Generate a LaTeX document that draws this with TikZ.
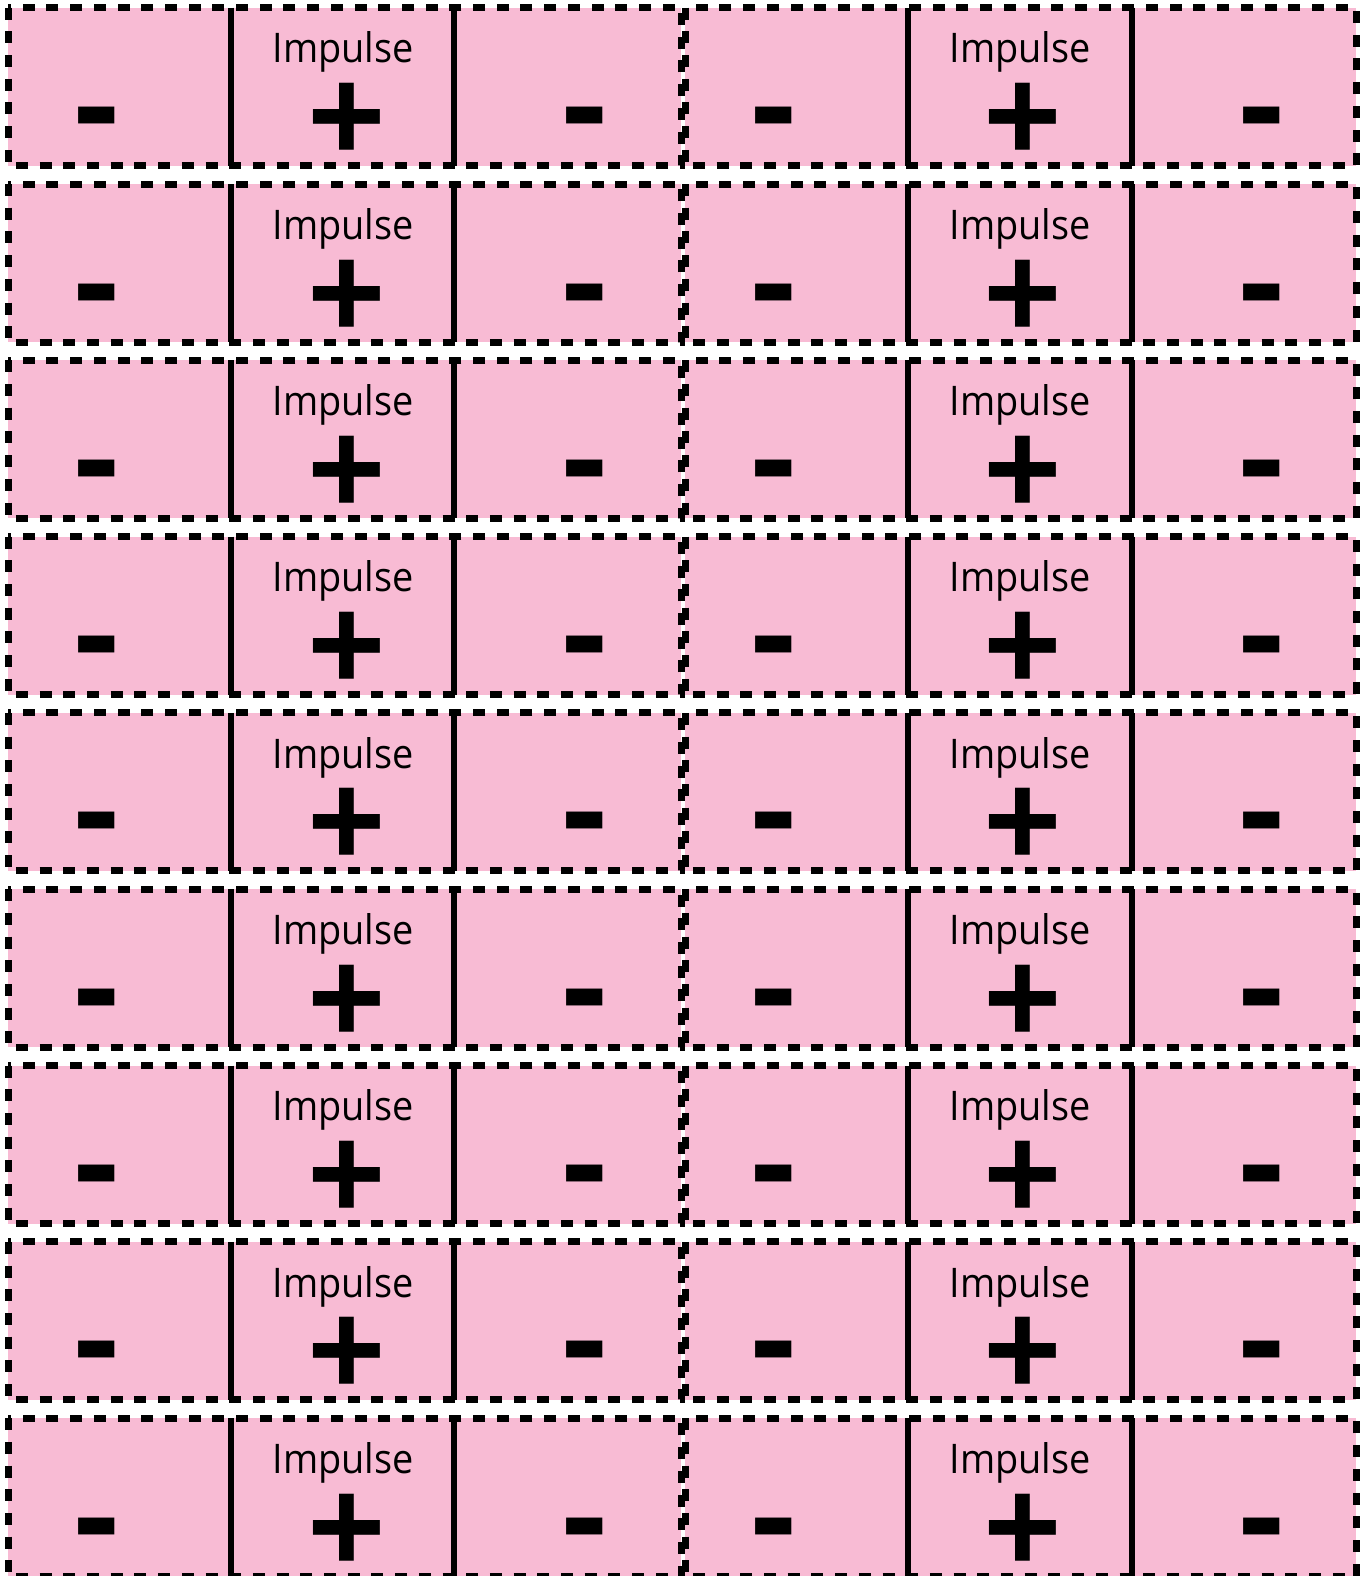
\documentclass[tikz,border=0pt]{standalone}
\usepackage{fontspec}
\setmainfont{Open Sans}
\definecolor{cardpink}{HTML}{F8BBD4}
\newcommand{\bigsign}[1]{\scalebox{3.45}{\fontsize{40}{40}\selectfont\bfseries #1}}
\begin{document}
\begin{tikzpicture}[x=1pt,y=-1pt,
  card/.style={fill=cardpink, draw=black, line width=7pt, dash pattern=on 12pt off 11.7pt},
  divider/.style={draw=black, line width=6.5pt},
  implabel/.style={inner sep=0pt, anchor=base},
  pluslabel/.style={inner sep=0pt, anchor=base, text height=83pt, text depth=-17pt},
  minuslabel/.style={inner sep=0pt, anchor=base, text height=44pt, text depth=-30pt}]
\fill[white] (0,0) rectangle (1363,1576);
\useasboundingbox (0,0) rectangle (1363,1576);
\foreach \r in {0,...,8} {
  \pgfmathsetmacro\t{7.7+176.3*\r}
  \pgfmathsetmacro\b{\t+158}
  \draw[card] (8,\t) rectangle (681,\b);
  \draw[card] (685,\t) rectangle (1356,\b);
  \draw[divider] (231,\t) -- (231,\b);
  \draw[divider] (454,\t) -- (454,\b);
  \draw[divider] (908,\t) -- (908,\b);
  \draw[divider] (1132,\t) -- (1132,\b);
  \node[implabel] (impL\r) at (343,\t+55.3) {\resizebox{141pt}{31pt}{Impulse}};
  \node[implabel] (impR\r) at (1020,\t+55.3) {\resizebox{141pt}{31pt}{Impulse}};
  \node[pluslabel] (plusL\r) at (347,\t+158) {\bigsign{+}};
  \node[pluslabel] (plusR\r) at (1023,\t+158) {\bigsign{+}};
  \node[minuslabel] (minLa\r) at (97,\t+145) {\bigsign{-}};
  \node[minuslabel] (minLb\r) at (585,\t+145) {\bigsign{-}};
  \node[minuslabel] (minRa\r) at (774,\t+145) {\bigsign{-}};
  \node[minuslabel] (minRb\r) at (1262,\t+145) {\bigsign{-}};
}
\end{tikzpicture}
\end{document}
